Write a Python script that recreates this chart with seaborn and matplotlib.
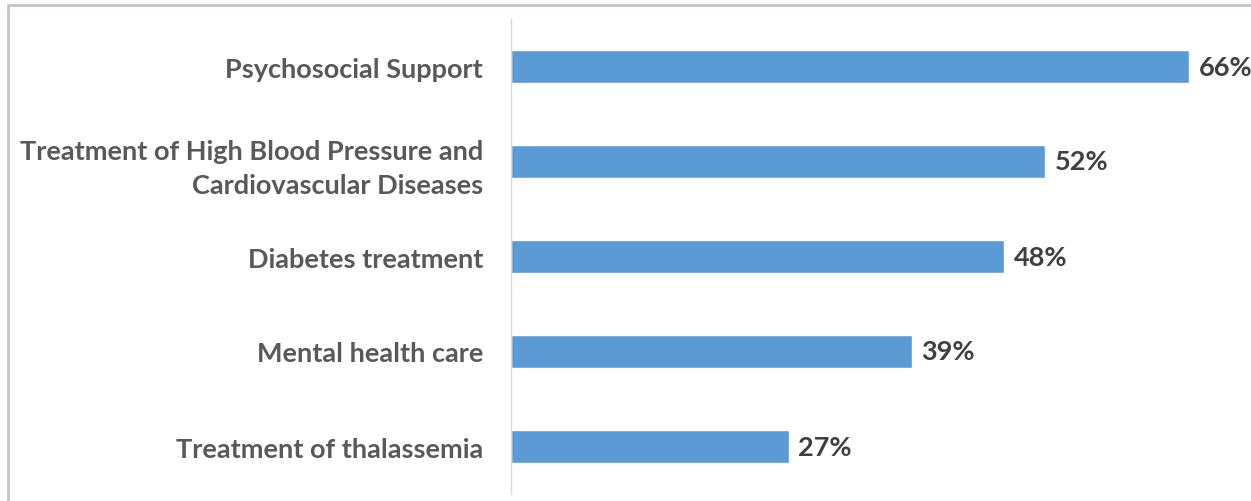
import matplotlib
matplotlib.use("Agg")
import matplotlib.pyplot as plt
from matplotlib.lines import Line2D
import seaborn as sns
import pandas as pd

categories = [
    "Psychosocial Support",
    "Treatment of High Blood Pressure and\nCardiovascular Diseases",
    "Diabetes treatment",
    "Mental health care",
    "Treatment of thalassemia",
]
values = [66, 52, 48, 39, 27]

df = pd.DataFrame({"service": categories, "share": values})

sns.set_theme(style="white")
plt.rcParams["font.family"] = ["Lato", "DejaVu Sans"]

fig = plt.figure(figsize=(12.51, 5.02), dpi=100)
ax = fig.add_axes([511 / 1251, 7 / 502, 1 - 511 / 1251, 475 / 502])

sns.barplot(data=df, x="share", y="service", orient="h", color="#5B9BD5",
            saturation=1, width=0.35, ax=ax)

ax.set_xlim(0, 72)
ax.set_ylim(4.5, -0.5)
ax.set_xlabel("")
ax.set_ylabel("")
ax.set_xticks([])

for side in ["top", "right", "bottom"]:
    ax.spines[side].set_visible(False)
ax.spines["left"].set_color("#d9d9d9")
ax.spines["left"].set_linewidth(1.0)

ax.tick_params(axis="y", length=0, pad=20)
for lbl in ax.get_yticklabels():
    lbl.set_fontsize(19.5)
    lbl.set_fontweight("bold")
    lbl.set_color("#595959")
    lbl.set_multialignment("right")
    lbl.set_linespacing(1.5)

for i, v in enumerate(values):
    ax.annotate(f"{v}%", xy=(v, i), xytext=(7, 0), textcoords="offset points",
                ha="left", va="center", fontsize=19.5, fontweight="bold",
                color="#404040")

# light frame around the chart area
frame_col = "#c9c1ca"
fig.add_artist(Line2D([8 / 1251, 1.0], [1 - 6 / 502, 1 - 6 / 502],
                      transform=fig.transFigure, color=frame_col, lw=2))
fig.add_artist(Line2D([8 / 1251, 8 / 1251], [0, 1 - 6 / 502],
                      transform=fig.transFigure, color=frame_col, lw=2))

fig.savefig("out.png", dpi=100, facecolor="white")
